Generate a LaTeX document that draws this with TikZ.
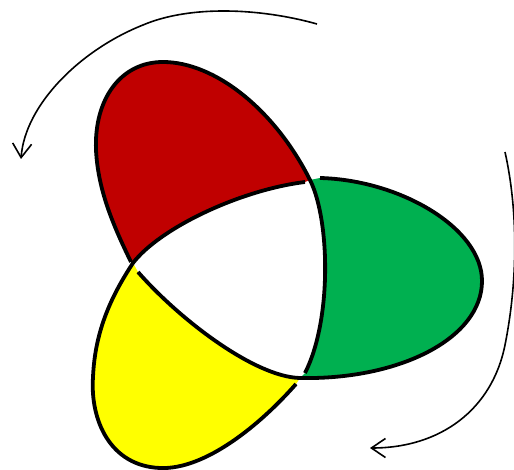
\documentclass[tikz,border=0pt]{standalone}
\usepackage{tikz}
\usetikzlibrary{arrows.meta}

\definecolor{lobered}{RGB}{192,0,0}
\definecolor{lobegreen}{RGB}{0,176,80}
\definecolor{lobeyellow}{RGB}{255,255,0}

\tikzset{
  strand/.style={line width=3.8pt, line join=round},
  turn/.style={line width=1.6pt, -{Straight Barb[length=14pt,width=19pt,line width=1.6pt]}}
}

\begin{document}
\begin{tikzpicture}[x=1pt,y=-1pt]
\useasboundingbox (0,0) rectangle (514,470);
\clip (0,0) rectangle (514,470);
% ---- lobe fills (outer edge, then the inner arc back)
\fill[lobered] (131,262) .. controls (113,225) and (98,190) .. (96,150)
  .. controls (94,100) and (120,62) .. (163,62)
  .. controls (215,62) and (275,110) .. (310,180)
  -- (305,182) .. controls (240,190) and (160,228) .. (133,263) -- cycle;
\fill[lobegreen] (320,178) .. controls (400,180) and (482,228) .. (482,281)
  .. controls (482,338) and (400,380) .. (300,378)
  -- (305,373) .. controls (332,320) and (330,220) .. (310,180) -- cycle;
\fill[lobeyellow] (296,384) .. controls (260,425) and (205,470) .. (160,468)
  .. controls (110,466) and (90,420) .. (93,377)
  .. controls (95,330) and (112,295) .. (133,263)
  -- (138,272) .. controls (180,320) and (255,377) .. (300,378) -- cycle;
% ---- the three strands, each ends short of the crossing it passes under
\draw[strand] (131,262) .. controls (113,225) and (98,190) .. (96,150)
  .. controls (94,100) and (120,62) .. (163,62)
  .. controls (215,62) and (275,110) .. (310,180)
  .. controls (330,220) and (332,320) .. (305,373);
\draw[strand] (296,384) .. controls (260,425) and (205,470) .. (160,468)
  .. controls (110,466) and (90,420) .. (93,377)
  .. controls (95,330) and (112,295) .. (133,263)
  .. controls (160,228) and (240,190) .. (305,182);
\draw[strand] (320,178) .. controls (400,180) and (482,228) .. (482,281)
  .. controls (482,338) and (400,380) .. (300,378)
  .. controls (255,377) and (180,320) .. (138,272);
% ---- turning arrows
\draw[turn] (317,24) .. controls (260,8) and (190,5) .. (143,25)
  .. controls (80,50) and (25,105) .. (21,159);
\draw[turn] (505,152) .. controls (518,210) and (518,280) .. (505,345)
  .. controls (492,410) and (440,448) .. (370,448);
\end{tikzpicture}
\end{document}
